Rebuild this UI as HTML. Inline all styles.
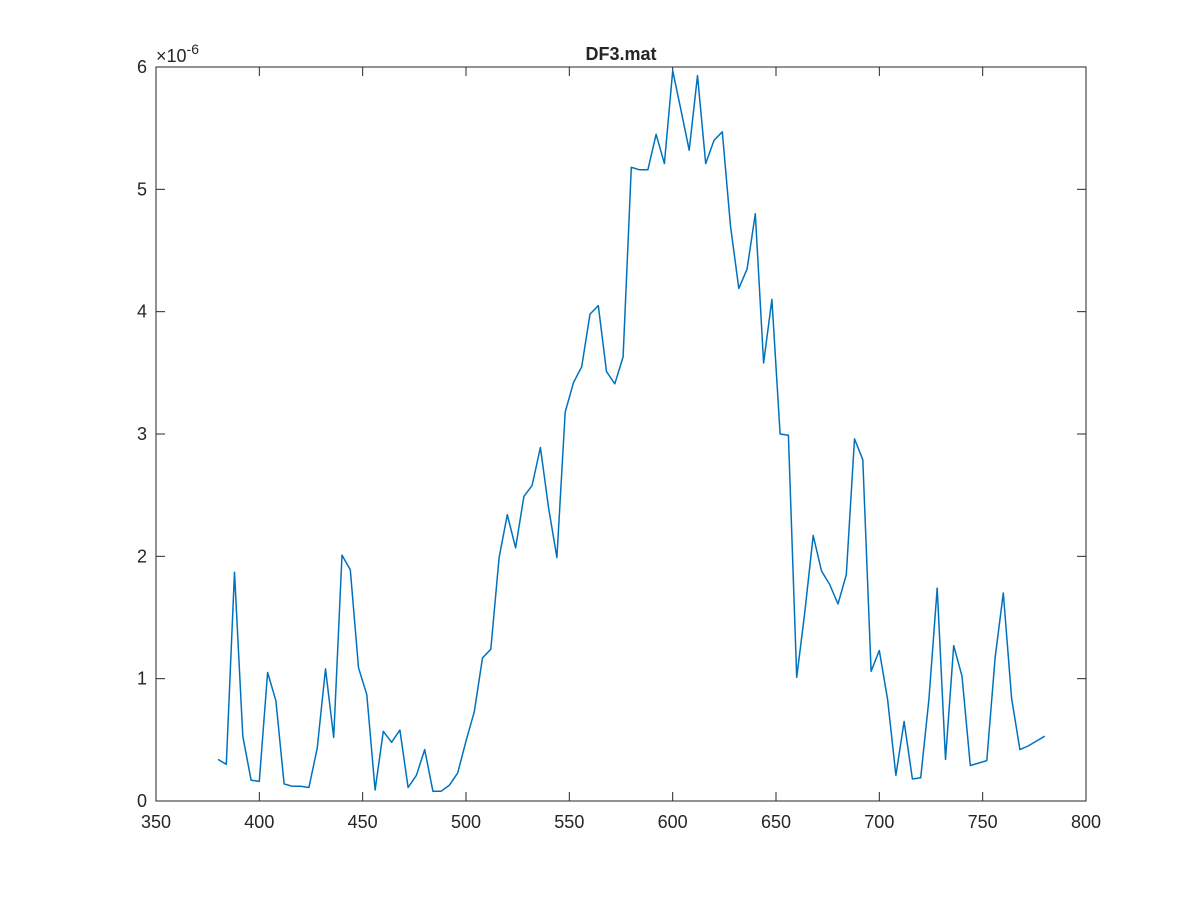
<!DOCTYPE html>
<html><head><meta charset="utf-8"><style>
html,body{margin:0;padding:0;background:#fff;}
svg text{font-family:"Liberation Sans",Arial,sans-serif;fill:#262626;}
</style></head><body>
<svg id="chart" width="1200" height="900" xmlns="http://www.w3.org/2000/svg">
<rect width="1200" height="900" fill="#fff"/>
<g id="plot"></g>
</svg>
<script>
const xValues=[380,384,388,392,396,400,404,408,412,416,420,424,428,432,436,440,444,448,452,456,460,464,468,472,476,480,484,488,492,496,500,504,508,512,516,520,524,528,532,536,540,544,548,552,556,560,564,568,572,576,580,584,588,592,596,600,604,608,612,616,620,624,628,632,636,640,644,648,652,656,660,664,668,672,676,680,684,688,692,696,700,704,708,712,716,720,724,728,732,736,740,744,748,752,756,760,764,768,772,776,780];
const yValues=[0.34,0.30,1.87,0.53,0.17,0.16,1.05,0.82,0.14,0.12,0.12,0.11,0.43,1.08,0.52,2.01,1.89,1.09,0.87,0.09,0.57,0.48,0.58,0.11,0.21,0.42,0.08,0.08,0.13,0.23,0.49,0.73,1.17,1.24,1.99,2.34,2.07,2.49,2.58,2.89,2.39,1.99,3.18,3.42,3.55,3.98,4.05,3.51,3.41,3.63,5.18,5.16,5.16,5.45,5.21,5.97,5.65,5.32,5.93,5.21,5.40,5.47,4.70,4.19,4.35,4.80,3.58,4.10,3.00,2.99,1.01,1.55,2.17,1.88,1.77,1.61,1.85,2.96,2.79,1.06,1.23,0.83,0.21,0.65,0.18,0.19,0.83,1.74,0.34,1.27,1.02,0.29,0.31,0.33,1.17,1.70,0.84,0.42,0.45,0.49,0.53];
const xTicks=[350,400,450,500,550,600,650,700,750,800];
const yTicks=[0,1,2,3,4,5,6];
const L=156,R=1086,T=67,B=801;
const sx=v=>L+(v-350)/450*(R-L);
const sy=v=>B-v/6*(B-T);
const NS="http://www.w3.org/2000/svg";
const g=document.getElementById('plot');
function mk(tag,attrs,parent){const e=document.createElementNS(NS,tag);for(const k in attrs)e.setAttribute(k,attrs[k]);(parent||g).appendChild(e);return e;}
const box=mk('rect',{x:L,y:T,width:R-L,height:B-T,fill:'#fff',stroke:'#262626','stroke-width':1});


xTicks.forEach(t=>{const x=sx(t);
 const a=mk('line',{x1:x,x2:x,y1:B,y2:B-9,stroke:'#262626'});
 const b=mk('line',{x1:x,x2:x,y1:T,y2:T+9,stroke:'#262626'});
 const tx=mk('text',{x:x,y:B+27,'text-anchor':'middle','font-size':18});tx.textContent=t;});
yTicks.forEach(t=>{const y=sy(t);
 const a=mk('line',{x1:L,x2:L+9,y1:y,y2:y,stroke:'#262626'});
 const b=mk('line',{x1:R,x2:R-9,y1:y,y2:y,stroke:'#262626'});
 const tx=mk('text',{x:L-9,y:y+6,'text-anchor':'end','font-size':18});tx.textContent=t;});
const ex=mk('text',{x:L,y:T-5,'font-size':18});
ex.innerHTML='×10<tspan dy="-8" font-size="14">-6</tspan>';
const title=mk('text',{x:(L+R)/2,y:T-7,'text-anchor':'middle','font-size':18,'font-weight':'bold'});title.textContent='DF3.mat';


const pts=xValues.map((x,i)=>sx(x).toFixed(1)+','+sy(yValues[i]).toFixed(1)).join(' ');
const line=mk('polyline',{points:pts,fill:'none',stroke:'#0072BD','stroke-width':1.5,'stroke-linejoin':'round'});


</script>
</body></html>
